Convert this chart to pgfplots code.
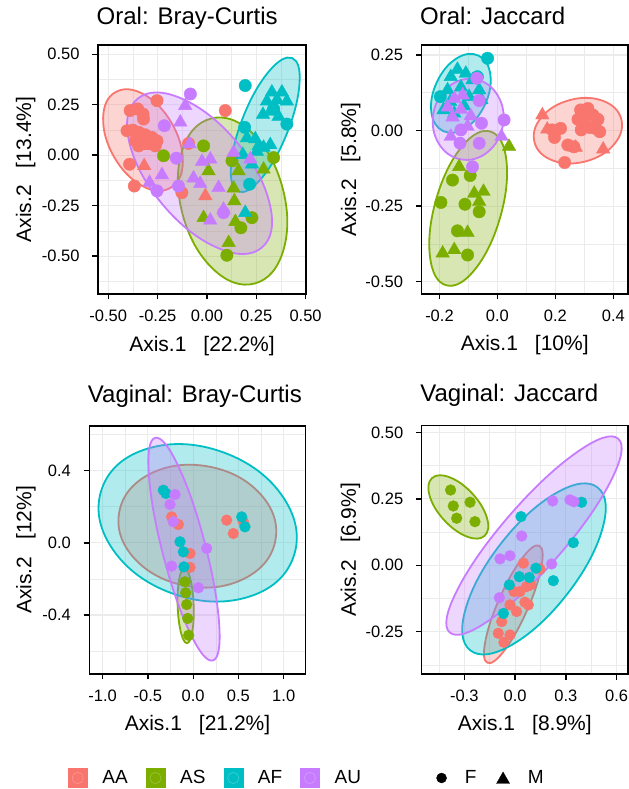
\documentclass[border=0pt]{standalone}
\usepackage{fontspec}
\setmainfont{Liberation Sans}
\usepackage{pgfplots}
\pgfplotsset{compat=1.18}

\definecolor{AAc}{HTML}{F8766D}
\definecolor{ASc}{HTML}{7CAE00}
\definecolor{AFc}{HTML}{00BFC4}
\definecolor{AUc}{HTML}{C77CFF}
\definecolor{gridc}{HTML}{EBEBEB}

\pgfplotsset{
  panel/.style={
    scale only axis, anchor=south west,
    axis line style={line width=1.4bp, black},
    tick align=outside, major tick length=5.5bp, minor tick length=0pt,
    every tick/.style={line width=1.4bp, black},
    xtick pos=left, ytick pos=left,
    grid=both,
    major grid style={gridc, line width=1.1bp},
    minor grid style={gridc, line width=0.6bp},
    /pgf/number format/assume math mode=true,
    tick label style={font=\fontsize{16.5bp}{19bp}\selectfont, black},
    xticklabel style={yshift=-7bp},
    yticklabel style={xshift=-9.5bp},
    label style={font=\fontsize{21bp}{24bp}\selectfont},
    title style={font=\fontsize{24bp}{27bp}\selectfont, anchor=base west, inner sep=0pt, xshift=-1.5bp},
    xlabel style={anchor=base},
    ylabel style={anchor=base},
  },
  ptF/.style={only marks, mark=*, mark size=6.2bp, color=#1, mark options={draw=none, fill=#1}},
  ptM/.style={only marks, mark=triangle*, mark size=7.8bp, color=#1, mark options={draw=none, fill=#1}},
  ptV/.style={only marks, mark=*, mark size=5.4bp, color=#1, mark options={draw=none, fill=#1}},
  ell/.style={smooth cycle, tension=0.7, no marks, draw=#1, fill=#1, fill opacity=0.3, line width=1.8bp},
  colkey/.style={legend image code/.code={
      \fill[#1, fill opacity=1] (0bp,-9.5bp) rectangle (19bp,9.5bp);
      \draw[white!25!#1, line width=0.6bp, fill=#1, opacity=1] (9.5bp,0bp) circle (5.6bp);}},
}

\begin{document}
\begin{tikzpicture}
\fill[white] (0bp,0bp) rectangle (629bp,789bp);

% ---------- Oral: Bray-Curtis ----------
\begin{axis}[panel, at={(98bp,495bp)}, width=208bp, height=249bp,
  xmin=-0.552, xmax=0.502, ymin=-0.688, ymax=0.546,
  xtick={-0.5,-0.25,0,0.25,0.5}, xticklabels={-0.50,-0.25,0.00,0.25,0.50},
  minor xtick={-0.375,-0.125,0.125,0.375},
  ytick={-0.5,-0.25,0,0.25,0.5}, yticklabels={-0.50,-0.25,0.00,0.25,0.50},
  minor ytick={-0.625,-0.375,-0.125,0.125,0.375},
  title={Oral: Bray-Curtis}, title style={at={(0,1.0563)}},
  xlabel={Axis.1\hspace{17bp}[22.2\%]}, xlabel style={at={(0.5,-0.2317)}},
  ylabel={Axis.2\hspace{17bp}[13.4\%]}, ylabel style={at={(-0.3221,0.5)}}]
\addplot[ptF=AAc] coordinates {(-0.389,0.221) (-0.351,0.229) (-0.324,0.204) (-0.321,0.179) (-0.405,0.121) (-0.375,0.124) (-0.346,0.113) (-0.313,0.101) (-0.279,0.088) (-0.253,0.071) (-0.363,0.071) (-0.329,0.085) (-0.296,0.058) (-0.262,0.046) (-0.392,-0.045) (-0.368,-0.153) (-0.253,0.270) (0.093,0.221) (-0.093,0.058) (-0.127,-0.186) (-0.346,0.046)};
\addplot[ptM=AAc] coordinates {(-0.318,-0.053) (-0.008,-0.202) (-0.287,0.046)};
\addplot[ptF=ASc] coordinates {(-0.017,0.046) (-0.220,-0.003) (0.127,-0.028) (0.338,-0.012) (0.228,-0.310) (0.172,-0.360) (0.101,-0.496)};
\addplot[ptM=ASc] coordinates {(0.008,-0.078) (0.160,-0.078) (0.135,-0.164) (0.139,-0.227) (-0.017,-0.310) (0.110,-0.434) (0.287,-0.070) (0.144,-0.330)};
\addplot[ptF=AFc] coordinates {(0.194,0.345) (0.405,0.154) (0.216,-0.144) (0.191,0.138) (0.338,0.229)};
\addplot[ptM=AFc] coordinates {(0.329,0.312) (0.380,0.312) (0.304,0.267) (0.355,0.274) (0.405,0.267) (0.321,0.217) (0.284,0.201) (0.363,0.191) (0.203,0.085) (0.245,0.080) (0.253,0.018) (0.182,0.002) (0.287,0.038) (0.321,0.051) (0.228,-0.045) (0.194,-0.285) (0.262,0.046)};
\addplot[ptF=AUc] coordinates {(-0.084,0.303) (-0.216,0.146) (-0.155,-0.015) (-0.144,-0.153) (-0.253,-0.177) (0.084,-0.285)};
\addplot[ptM=AUc] coordinates {(-0.110,0.245) (-0.135,0.163) (-0.088,0.055) (-0.025,-0.032) (0.017,-0.020) (-0.228,-0.098) (-0.291,-0.136) (-0.068,-0.114) (-0.034,-0.141) (0.059,-0.161) (0.084,-0.269) (0.017,-0.323) (0.135,0.013) (0.220,-0.020)};
\addplot[ell=AAc] coordinates {(-0.185,-0.162) (-0.329,-0.152) (-0.471,-0.008) (-0.526,0.184) (-0.464,0.312) (-0.319,0.301) (-0.178,0.158) (-0.122,-0.034)};
\addplot[ell=ASc] coordinates {(0.242,-0.636) (0.030,-0.563) (-0.123,-0.294) (-0.128,0.015) (0.019,0.181) (0.230,0.109) (0.383,-0.161) (0.388,-0.469)};
\addplot[ell=AFc] coordinates {(0.432,0.481) (0.469,0.354) (0.405,0.107) (0.277,-0.114) (0.159,-0.180) (0.122,-0.052) (0.186,0.195) (0.314,0.415)};
\addplot[ell=AUc] coordinates {(0.278,-0.458) (0.053,-0.459) (-0.225,-0.244) (-0.393,0.062) (-0.352,0.279) (-0.127,0.280) (0.151,0.065) (0.318,-0.241)};
\end{axis}

% ---------- Oral: Jaccard ----------
\begin{axis}[panel, at={(421.5bp,495bp)}, width=206.5bp, height=249bp,
  xmin=-0.262, xmax=0.4506, ymin=-0.541, ymax=0.283,
  xtick={-0.2,0,0.2,0.4}, xticklabels={-0.2,0.0,0.2,0.4},
  minor xtick={-0.1,0.1,0.3},
  ytick={-0.5,-0.25,0,0.25}, yticklabels={-0.50,-0.25,0.00,0.25},
  minor ytick={-0.375,-0.125,0.125},
  title={Oral: Jaccard}, title style={at={(0,1.0563)}},
  xlabel={Axis.1\hspace{17bp}[10\%]}, xlabel style={at={(0.5,-0.2277)}},
  ylabel={Axis.2\hspace{17bp}[5.8\%]}, ylabel style={at={(-0.3172,0.5)}}]
\addplot[ptF=AAc] coordinates {(0.287,0.068) (0.312,0.073) (0.330,0.051) (0.347,0.037) (0.278,0.037) (0.298,0.024) (0.319,0.010) (0.338,0.007) (0.353,-0.004) (0.289,0.002) (0.218,0.007) (0.189,0.002) (0.197,-0.023) (0.243,-0.048) (0.264,-0.054) (0.232,-0.106) (0.304,0.051)};
\addplot[ptM=AAc] coordinates {(0.155,0.051) (0.172,0.004) (0.270,-0.056) (0.365,-0.062) (0.289,0.059)};
\addplot[ptF=ASc] coordinates {(-0.155,-0.164) (-0.094,-0.149) (-0.195,-0.238) (-0.112,-0.244) (-0.063,-0.269) (-0.138,-0.332) (-0.103,-0.412)};
\addplot[ptM=ASc] coordinates {(0.040,-0.053) (-0.132,-0.120) (-0.080,-0.208) (-0.048,-0.202) (-0.063,-0.235) (-0.103,-0.338) (-0.189,-0.406) (-0.149,-0.395)};
\addplot[ptF=AFc] coordinates {(-0.034,0.239) (-0.069,0.178) (-0.197,0.112)};
\addplot[ptM=AFc] coordinates {(-0.138,0.202) (-0.109,0.189) (-0.086,0.167) (-0.172,0.134) (-0.126,0.143) (-0.163,0.095) (-0.186,0.068) (-0.149,0.057) (-0.098,0.112) (-0.063,0.134) (-0.055,0.101) (-0.115,0.081) (-0.161,0.178)};
\addplot[ptF=AUc] coordinates {(-0.063,0.099) (0.023,0.035) (-0.055,0.024) (-0.129,-0.042) (-0.063,-0.042) (-0.086,-0.120) (-0.126,0.002) (-0.071,0.173)};
\addplot[ptM=AUc] coordinates {(-0.172,0.077) (-0.126,0.070) (-0.155,0.044) (-0.092,0.048) (0.014,-0.020) (-0.161,-0.020) (-0.103,0.013) (-0.149,0.106) (-0.120,0.117)};
\addplot[ell=AAc] coordinates {(0.4273,0.0381) (0.4034,-0.0449) (0.3059,-0.1018) (0.1919,-0.0995) (0.1281,-0.0392) (0.1519,0.0438) (0.2495,0.1007) (0.3635,0.0984)};
\addplot[ell=ASc] coordinates {(-0.0247,-0.0032) (0.031,-0.0993) (0.0093,-0.2881) (-0.0770,-0.4590) (-0.1773,-0.5119) (-0.2329,-0.4158) (-0.2112,-0.2270) (-0.1250,-0.0561)};
\addplot[ell=AFc] coordinates {(-0.0655,0.248) (-0.0244,0.185) (-0.043,0.0857) (-0.110,0.0083) (-0.187,-0.002) (-0.228,0.061) (-0.209,0.160) (-0.142,0.238)};
\addplot[ell=AUc] coordinates {(-0.0767,0.1695) (0.0009,0.1164) (0.0188,0.0167) (-0.0335,-0.0711) (-0.1253,-0.0956) (-0.2029,-0.0425) (-0.2208,0.0572) (-0.1684,0.1450)};
\end{axis}

% ---------- Vaginal: Bray-Curtis ----------
\begin{axis}[panel, at={(89.3bp,115bp)}, width=216.4bp, height=248bp,
  xmin=-1.148, xmax=1.243, ymin=-0.727, ymax=0.648,
  xtick={-1,-0.5,0,0.5,1}, xticklabels={-1.0,-0.5,0.0,0.5,1.0},
  minor xtick={-0.75,-0.25,0.25,0.75},
  ytick={-0.4,0,0.4}, yticklabels={-0.4,0.0,0.4},
  minor ytick={-0.6,-0.2,0.2,0.6},
  title={Vaginal: Bray-Curtis}, title style={at={(0,1.0726)}},
  xlabel={Axis.1\hspace{17bp}[21.2\%]}, xlabel style={at={(0.5,-0.2286)}},
  ylabel={Axis.2\hspace{17bp}[12\%]}, ylabel style={at={(-0.2671,0.5)}},
  legend style={at={(0.5786,-0.4194)}, anchor=center, draw=none, fill=none,
    inner sep=0pt, legend columns=4, font=\fontsize{19bp}{22bp}\selectfont,
    nodes={inner sep=0pt},
    /tikz/every odd column/.append style={column sep=15bp},
    /tikz/every even column/.append style={column sep=18bp}}]
\addlegendimage{colkey=AAc}\addlegendentry{AA}
\addlegendimage{colkey=ASc}\addlegendentry{AS}
\addlegendimage{colkey=AFc}\addlegendentry{AF}
\addlegendimage{colkey=AUc}\addlegendentry{AU}
\addplot[ptV=AAc] coordinates {(-0.238,0.144) (-0.164,0.102) (-0.035,-0.059) (-0.035,-0.136) (0.370,0.126) (0.443,0.052) (0.554,0.117)};
\addplot[ptV=ASc] coordinates {(-0.083,-0.277) (-0.072,-0.342) (-0.061,-0.419) (-0.050,-0.512) (-0.091,-0.216)};
\addplot[ptV=AFc] coordinates {(-0.330,0.292) (-0.301,0.274) (-0.146,0.006) (-0.109,-0.050) (-0.102,-0.133) (0.536,0.144) (0.572,0.089)};
\addplot[ptV=AUc] coordinates {(-0.201,0.268) (-0.256,0.213) (-0.220,0.117) (0.149,-0.031) (-0.238,-0.129) (0.057,-0.249)};
\addplot[ell=AAc] coordinates {(0.9090,0.0161) (0.5735,-0.1959) (-0.0711,-0.2387) (-0.6475,-0.0876) (-0.8177,0.1691) (-0.4821,0.3810) (0.1624,0.4239) (0.7389,0.2727)};
\addplot[ell=ASc] coordinates {(-0.0689,-0.5558) (-0.1355,-0.4963) (-0.1716,-0.3505) (-0.1558,-0.2038) (-0.0976,-0.1423) (-0.0309,-0.2018) (0.0052,-0.3476) (-0.0107,-0.4943)};
\addplot[ell=AFc] coordinates {(1.1053,-0.0817) (0.5956,-0.3016) (-0.2343,-0.2797) (-0.8980,-0.0290) (-1.0066,0.3038) (-0.4969,0.5237) (0.3330,0.5018) (0.9967,0.2511)};
\addplot[ell=AUc] coordinates {(0.2162,-0.6521) (-0.0409,-0.4926) (-0.3333,-0.0650) (-0.4902,0.3801) (-0.4195,0.5822) (-0.1624,0.4228) (0.1300,-0.0048) (0.2869,-0.4499)};
\end{axis}

% ---------- Vaginal: Jaccard ----------
\begin{axis}[panel, at={(421.7bp,115bp)}, width=206.3bp, height=248.3bp,
  xmin=-0.5516, xmax=0.667, ymin=-0.409, ymax=0.525,
  xtick={-0.3,0,0.3,0.6}, xticklabels={-0.3,0.0,0.3,0.6},
  minor xtick={-0.45,-0.15,0.15,0.45},
  ytick={-0.25,0,0.25,0.5}, yticklabels={-0.25,0.00,0.25,0.50},
  minor ytick={-0.375,-0.125,0.125,0.375},
  title={Vaginal: Jaccard}, title style={at={(0,1.0725)}},
  xlabel={Axis.1\hspace{17bp}[8.9\%]}, xlabel style={at={(0.5,-0.2284)}},
  ylabel={Axis.2\hspace{17bp}[6.9\%]}, ylabel style={at={(-0.3185,0.5)}},
  legend style={at={(0.331,-0.4188)}, anchor=center, draw=none, fill=none,
    inner sep=0pt, legend columns=2, font=\fontsize{19bp}{22bp}\selectfont,
    nodes={inner sep=0pt},
    /tikz/every odd column/.append style={column sep=18bp},
    /tikz/every even column/.append style={column sep=20bp}}]
\addlegendimage{legend image code/.code={\fill[black] (5bp,0bp) circle (5bp);}}\addlegendentry{F}
\addlegendimage{legend image code/.code={\fill[black] (0bp,-5.5bp) -- (13bp,-5.5bp) -- (6.5bp,6bp) -- cycle;}}\addlegendentry{M}
\addplot[ptV=AAc] coordinates {(0.049,0.008) (0.029,-0.099) (0.058,-0.139) (-0.006,-0.099) (-0.030,-0.149) (0.009,-0.174) (-0.079,-0.212) (-0.099,-0.256) (-0.030,-0.262) (-0.066,-0.290) (0.068,-0.080) (0.092,-0.074) (0.147,-0.014) (0.078,-0.149)};
\addplot[ptV=ASc] coordinates {(-0.381,0.283) (-0.266,0.237) (-0.365,0.223) (-0.345,0.177) (-0.237,0.164)};
\addplot[ptV=AFc] coordinates {(0.035,0.183) (0.393,0.237) (0.344,0.085) (0.226,-0.058) (0.123,-0.011) (0.084,-0.046) (0.025,-0.043) (-0.034,-0.074) (-0.069,-0.181)};
\addplot[ptV=AUc] coordinates {(0.222,0.242) (0.324,0.246) (0.348,0.239) (0.039,0.110) (-0.089,0.024) (-0.030,0.036) (0.216,0.005) (-0.093,-0.122)};
\addplot[ell=AAc] coordinates {(0.1424,0.0736) (0.1550,-0.0070) (0.0707,-0.1695) (-0.0610,-0.3185) (-0.1632,-0.3669) (-0.1758,-0.2863) (-0.0916,-0.1239) (0.0402,0.0252)};
\addplot[ell=ASc] coordinates {(-0.1800,0.1109) (-0.2851,0.1081) (-0.4198,0.1704) (-0.5048,0.2614) (-0.4906,0.3278) (-0.3855,0.3307) (-0.2508,0.2684) (-0.1658,0.1774)};
\addplot[ell=AFc] coordinates {(0.4877,0.2925) (0.5147,0.1345) (0.3056,-0.1103) (-0.0171,-0.2986) (-0.2644,-0.3200) (-0.2914,-0.1621) (-0.0823,0.0827) (0.2404,0.2710)};
\addplot[ell=AUc] coordinates {(0.6090,0.4760) (0.5631,0.3140) (0.2528,0.0335) (-0.1402,-0.2013) (-0.3857,-0.2529) (-0.3398,-0.0909) (-0.0295,0.1897) (0.3635,0.4245)};
\end{axis}

\pgfresetboundingbox
\path[use as bounding box] (0bp,0bp) rectangle (629bp,789bp);
\end{tikzpicture}
\end{document}
